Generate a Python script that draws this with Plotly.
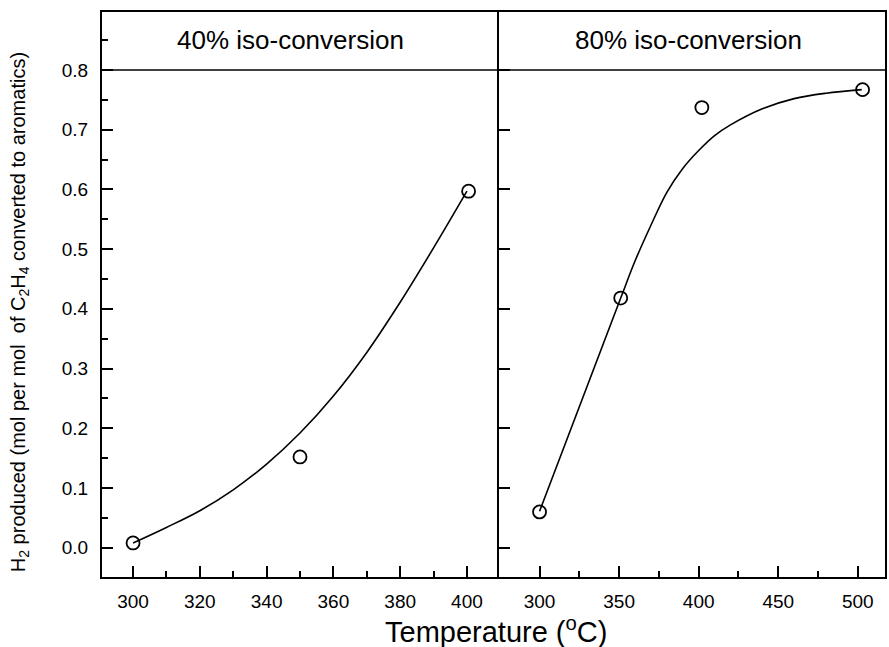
import plotly.graph_objects as go

# ---- data ----
left_pts_x = [300, 350, 400.5]
left_pts_y = [0.008, 0.152, 0.597]
left_fit_x = [300, 310, 320, 330, 340, 350, 360, 370, 380, 390, 400]
left_fit_y = [0.008, 0.034, 0.062, 0.097, 0.140, 0.192, 0.254, 0.327, 0.411, 0.502, 0.597]

right_pts_x = [300, 351, 402, 503]
right_pts_y = [0.06, 0.418, 0.737, 0.767]
right_fit_x = [300, 351, 360, 370, 380, 390, 400, 410, 420, 440, 460, 480, 502.5]
right_fit_y = [0.061, 0.418, 0.48, 0.54, 0.595, 0.635, 0.665, 0.69, 0.708, 0.735, 0.752, 0.761, 0.767]

panel_titles = ["40% iso-conversion", "80% iso-conversion"]
y_ticks = [0.0, 0.1, 0.2, 0.3, 0.4, 0.5, 0.6, 0.7, 0.8]
y_minor = [-0.05, 0.05, 0.15, 0.25, 0.35, 0.45, 0.55, 0.65, 0.75, 0.85]
left_x_ticks = [300, 320, 340, 360, 380, 400]
left_x_minor = [310, 330, 350, 370, 390]
right_x_ticks = [300, 350, 400, 450, 500]
right_x_minor = [325, 375, 425, 475]

FONT = "Liberation Sans, Arial, sans-serif"
W, H = 889, 647
L, R, T, B = 102, 2, 12, 70
PW, PH = W - L - R, H - T - B
split = (500 - L) / PW

fig = go.Figure()
line_style = dict(color="black", width=1.6)
marker_style = dict(symbol="circle-open", size=13, color="black", line=dict(width=1.8))

fig.add_trace(go.Scatter(x=left_fit_x, y=left_fit_y, mode="lines", line=dict(shape="spline", smoothing=1.0, **line_style),
                         xaxis="x", yaxis="y", showlegend=False, hoverinfo="skip"))
fig.add_trace(go.Scatter(x=left_pts_x, y=left_pts_y, mode="markers", marker=marker_style,
                         xaxis="x", yaxis="y", showlegend=False))
fig.add_trace(go.Scatter(x=right_fit_x, y=right_fit_y, mode="lines", line=dict(shape="spline", smoothing=1.0, **line_style),
                         xaxis="x2", yaxis="y2", showlegend=False, hoverinfo="skip"))
fig.add_trace(go.Scatter(x=right_pts_x, y=right_pts_y, mode="markers", marker=marker_style,
                         xaxis="x2", yaxis="y2", showlegend=False))

tickfont = dict(family=FONT, size=19, color="black")
ax_common = dict(showline=True, linecolor="black", linewidth=2, ticks="inside",
                 tickcolor="black", tickwidth=2, showgrid=False, zeroline=False, tickfont=tickfont)
minor_common = dict(ticks="inside", ticklen=6, tickcolor="black", tickwidth=2)
yr = [-0.049, 0.897]

fig.update_layout(
    width=W, height=H,
    margin=dict(l=L, r=R, t=T, b=B),
    paper_bgcolor="white", plot_bgcolor="white",
    font=dict(family=FONT, color="black"),
    xaxis=dict(domain=[0, split], range=[290.7, 409.6], tickmode="array", tickvals=left_x_ticks,
               ticklen=11, minor=dict(tickvals=left_x_minor, **minor_common), mirror=True,
               ticklabelstandoff=6, anchor="y", **ax_common),
    xaxis2=dict(domain=[split, 1], range=[274.5, 517.1], tickmode="array", tickvals=right_x_ticks,
                ticklen=11, minor=dict(tickvals=right_x_minor, **minor_common), mirror=True,
                ticklabelstandoff=6, anchor="y2", **ax_common),
    yaxis=dict(range=yr, tickmode="array", tickvals=y_ticks, ticktext=[f"{v:.1f}" for v in y_ticks],
               ticklen=11, minor=dict(tickvals=y_minor, **minor_common), mirror=False,
               ticklabelstandoff=8, anchor="x", **ax_common),
    yaxis2=dict(range=yr, tickmode="array", tickvals=y_ticks, showticklabels=False, ticklen=11,
                mirror=True, anchor="x2", **ax_common),
)

# axis titles
fig.add_annotation(text="Temperature (<sup>o</sup>C)", xref="paper", yref="paper",
                   x=(497 - L) / PW, y=0, yshift=-53, showarrow=False, xanchor="center", yanchor="middle",
                   font=dict(family=FONT, size=29, color="black"))
fig.add_annotation(text="H<sub>2</sub> produced (mol per mol  of C<sub>2</sub>H<sub>4</sub> converted to aromatics)",
                   xref="paper", yref="paper", x=(20 - L) / PW, y=(577 - 312) / PH, textangle=-90,
                   showarrow=False, xanchor="center", yanchor="middle",
                   font=dict(family=FONT, size=20, color="black"))

# panel header band
fig.add_shape(type="line", xref="paper", yref="y", x0=0, x1=1, y0=0.8, y1=0.8, line=dict(color="black", width=1.6))
fig.add_annotation(text=panel_titles[0], xref="paper", yref="y", x=(291 - L) / PW, y=0.85, showarrow=False,
                   xanchor="center", yanchor="middle", font=dict(family=FONT, size=26, color="black"))
fig.add_annotation(text=panel_titles[1], xref="paper", yref="y", x=(690 - L) / PW, y=0.85, showarrow=False,
                   xanchor="center", yanchor="middle", font=dict(family=FONT, size=26, color="black"))

fig.write_html("out.html", post_script="document.body.style.margin='0';",
               config={"displayModeBar": False})
